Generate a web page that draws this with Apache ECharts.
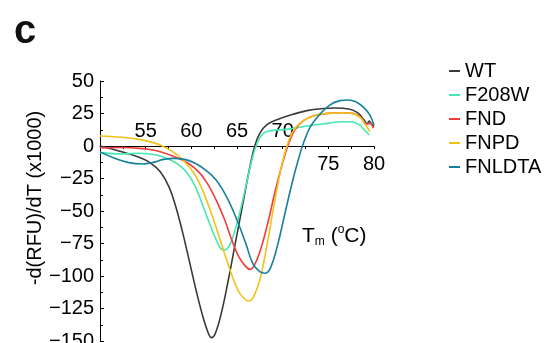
<!DOCTYPE html>
<html>
<head>
<meta charset="utf-8">
<script src="https://cdn.jsdelivr.net/npm/echarts@6/dist/echarts.min.js"></script>
<style>
html,body{margin:0;padding:0;background:#fff;}
#chart{width:549px;height:343px;}
</style>
</head>
<body>
<div id="chart"></div>
<script>
// ---- data ----
var seriesNames = ['WT', 'F208W', 'FND', 'FNPD', 'FNLDTA'];
var topTickLabels = [55, 60, 65, 70];
var bottomTickLabels = [75, 80];
var yTicks = [-150, -125, -100, -75, -50, -25, 0, 25, 50];

var wtX = [50, 52.37, 54.29, 55.43, 56.58, 57.54, 58.30, 59.07, 59.84, 60.60, 61.37, 61.94, 62.21, 62.63, 63.28, 64.05, 64.81, 65.58, 66.34, 66.92, 67.49, 68.25, 69.59, 71.12, 72.66, 74.19, 75.72, 77.25, 78.20, 78.97, 79.24, 79.47, 79.74, 80.0];
var wtY = [0, -4.4, -8.7, -12.6, -19.7, -31.3, -46.7, -67.2, -90.3, -113.3, -133.8, -145.4, -147.4, -144.1, -128.7, -103.1, -74.9, -46.7, -18.5, -0.5, 9.7, 16.2, 20.8, 24.4, 27.2, 28.7, 29.2, 28.5, 25.6, 19.5, 16.9, 19.2, 16.9, 14.9];

var f208wX = [50, 52.37, 54.29, 56.20, 57.73, 58.88, 59.84, 60.60, 61.37, 62.13, 62.90, 63.47, 63.85, 64.43, 65.19, 65.96, 66.72, 67.22, 67.87, 68.83, 70.36, 71.89, 73.42, 74.95, 76.48, 77.63, 78.40, 78.97, 79.47];
var f208wY = [-5.1, -6.2, -5.6, -6.9, -10.8, -15.9, -23.6, -33.8, -47.9, -62.1, -74.9, -80.0, -79.5, -72.3, -54.4, -31.3, -8.2, 2.1, 9.7, 11.8, 12.8, 14.4, 16.2, 17.4, 18.7, 18.5, 16.2, 12.3, 8.5];

var fndX = [50, 52.37, 54.29, 56.20, 58.11, 59.64, 60.79, 61.75, 62.71, 63.66, 64.43, 65.19, 65.96, 66.42, 66.92, 67.68, 68.45, 69.21, 69.98, 70.67, 71.32, 72.27, 73.42, 74.95, 76.48, 77.63, 78.59, 79.09, 79.55, 79.93];
var fndY = [-1.5, -1.2, -1.8, -3.6, -8.2, -13.3, -19.7, -28.7, -41.5, -56.9, -72.3, -85.1, -92.8, -94.9, -91.5, -77.4, -56.9, -33.8, -13.3, 2.1, 12.3, 19.5, 23.3, 25.1, 25.6, 25.1, 22.1, 16.9, 17.4, 13.6];

var fnpdX = [50, 52.37, 54.29, 55.82, 56.97, 58.11, 59.26, 60.41, 61.37, 62.32, 63.28, 64.24, 65.19, 65.96, 66.23, 66.72, 67.49, 68.25, 69.02, 69.78, 70.44, 71.12, 72.08, 73.42, 74.95, 76.48, 77.63, 78.59, 79.16, 79.55];
var fnpdY = [7.7, 6.7, 5.1, 2.6, -0.5, -5.1, -12.1, -22.3, -36.4, -54.4, -74.9, -95.4, -112.1, -118.5, -119.2, -117.2, -103.1, -77.4, -46.7, -18.5, -0.5, 11.0, 18.7, 23.3, 25.1, 25.6, 25.1, 21.3, 15.4, 11.0];

var fnldtaX = [50, 51.61, 53.14, 54.67, 55.82, 56.97, 58.11, 59.26, 60.41, 61.56, 62.71, 63.85, 65.00, 65.96, 66.72, 67.49, 68.06, 68.64, 69.40, 70.17, 70.93, 71.70, 72.27, 73.04, 74.00, 75.14, 76.29, 77.1, 78.01, 78.97, 79.55, 80.0];
var fnldtaY = [-4.5, -9.5, -12.8, -13.8, -12.6, -10.3, -9.5, -10.3, -13.3, -18.5, -26.2, -39.0, -56.9, -74.9, -90.3, -96.7, -97.9, -94.1, -77.4, -54.4, -31.3, -10.8, 2.1, 14.9, 23.8, 31.5, 34.9, 35.4, 34.1, 29.0, 23.8, 16.2];

var colors = ['#3a3a3a', '#45e8ae', '#f23b3b', '#f2c21a', '#17809e'];

function zip(xs, ys) { return xs.map(function (x, i) { return [x, ys[i]]; }); }
var allX = [wtX, f208wX, fndX, fnpdX, fnldtaX];
var allY = [wtY, f208wY, fndY, fnpdY, fnldtaY];

var FONT = 'Liberation Sans, Arial, Helvetica, sans-serif';
var GRID_TOP = 81, GRID_BOTTOM = 2, H = 343;
var yMin = yTicks[0], yMax = yTicks[yTicks.length - 1];
// offset that brings a bottom x axis up to the y = 0 line
var zeroOffset = -((H - GRID_BOTTOM - GRID_TOP) * (0 - yMin) / (yMax - yMin));

var chart = echarts.init(document.getElementById('chart'), null, {renderer: 'canvas'});

var option = {
  animation: false,
  backgroundColor: '#fff',
  title: {
    text: 'c', left: 9, top: 7,
    textStyle: {fontSize: 40, fontWeight: 'bold', color: '#111', fontFamily: FONT}
  },
  legend: {
    orient: 'vertical', left: 449, top: 61, padding: 0, itemGap: 4,
    itemWidth: 11, itemHeight: 2, icon: 'rect',
    textStyle: {fontSize: 20, color: '#000', lineHeight: 20, fontFamily: FONT},
    data: seriesNames
  },
  grid: {left: 100, right: 175, top: GRID_TOP, bottom: GRID_BOTTOM, containLabel: false, outerBoundsMode: 'none'},
  xAxis: [{
    type: 'value', min: 50, max: 80, interval: 2.5, position: 'bottom', offset: zeroOffset,
    axisLine: {onZero: false, lineStyle: {color: '#000', width: 1}},
    axisTick: {show: true, length: 3, lineStyle: {color: '#000'}},
    axisLabel: {
      inside: true, margin: 5, fontSize: 20, color: '#000', fontFamily: FONT,
      formatter: function (v) { return topTickLabels.indexOf(v) >= 0 ? String(v) : ''; }
    },
    splitLine: {show: false}
  }, {
    type: 'value', min: 50, max: 80, interval: 5, position: 'bottom', offset: zeroOffset,
    axisLine: {show: false, onZero: false},
    axisTick: {show: false},
    axisLabel: {
      margin: 8, fontSize: 20, color: '#000', fontFamily: FONT,
      formatter: function (v) { return bottomTickLabels.indexOf(v) >= 0 ? String(v) : ''; }
    },
    splitLine: {show: false}
  }],
  yAxis: [{
    type: 'value', min: yMin, max: yMax, interval: 25,
    name: '-d(RFU)/dT (x1000)', nameLocation: 'middle', nameRotate: 90, nameGap: 46,
    nameTextStyle: {fontSize: 20, color: '#000', fontFamily: FONT, padding: [0, 0, 0, 26]},
    axisLine: {show: true, onZero: false, lineStyle: {color: '#000', width: 1}},
    axisTick: {show: true, inside: true, length: 4, lineStyle: {color: '#000'}},
    minorTick: {show: true, splitNumber: 2, length: 3, lineStyle: {color: '#000'}},
    axisLabel: {
      margin: 6, fontSize: 20, color: '#000', fontFamily: FONT,
      formatter: function (v) { return String(v).replace('-', '\u2212'); }
    },
    splitLine: {show: false}
  }],
  graphic: [{
    type: 'text', left: 302, top: 224,
    style: {
      text: '{t|T}{m|m}{t| (}{o|o}{t|C)}',
      fill: '#000',
      rich: {
        t: {fontSize: 21, lineHeight: 24, fontFamily: FONT, fill: '#000'},
        m: {fontSize: 12, lineHeight: 8, verticalAlign: 'bottom', fontFamily: FONT, fill: '#000'},
        o: {fontSize: 12, lineHeight: 16, verticalAlign: 'top', fontFamily: FONT, fill: '#000'}
      }
    }
  }],
  series: seriesNames.map(function (name, i) {
    return {
      name: name, type: 'line', xAxisIndex: 0, yAxisIndex: 0,
      data: zip(allX[i], allY[i]),
      smooth: 0.4, showSymbol: false, symbol: 'none',
      lineStyle: {color: colors[i], width: 1.6},
      itemStyle: {color: colors[i]},
      z: 2
    };
  })
};
chart.setOption(option);
</script>
</body>
</html>
